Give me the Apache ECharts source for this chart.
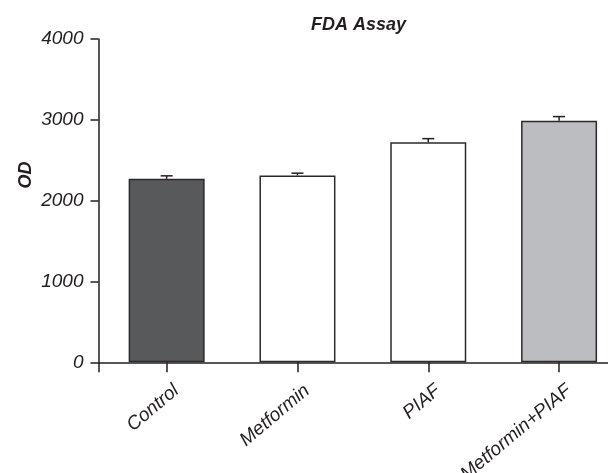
<!DOCTYPE html>
<html>
<head>
<meta charset="utf-8">
<script src="https://cdn.jsdelivr.net/npm/echarts@6/dist/echarts.min.js"></script>
<style>
html,body{margin:0;padding:0;background:#fff;}
#chart{width:608px;height:473px;}
</style>
</head>
<body>
<div id="chart"></div>
<script>
const categories = ["Control", "Metformin", "PIAF", "Metformin+PIAF"];
const odValues = [2270, 2312, 2722, 2988];
const odErrors = [37, 28, 45, 52];
const barColors = ["#58595b", "#ffffff", "#ffffff", "#bcbdc0"];
const yTicks = [0, 1000, 2000, 3000, 4000];

const ink = "#231f20";
const font = "Liberation Sans";
const positions = categories.map((c, i) => i);
const labelShift = 0.075;

const chart = echarts.init(document.getElementById('chart'), null, {renderer: 'canvas'});

const option = {
  backgroundColor: '#ffffff',
  animation: false,
  title: {
    text: 'FDA Assay',
    left: 306,
    top: 11,
    textStyle: {fontFamily: font, fontSize: 18, fontWeight: 'bold', fontStyle: 'italic', color: ink}
  },
  grid: {left: 98.5, right: 0, top: 39, bottom: 110.7, containLabel: false, outerBoundsMode: 'none'},
  xAxis: {
    type: 'value',
    min: -0.521,
    max: 3.374,
    splitLine: {show: false},
    axisLine: {show: true, onZero: false, lineStyle: {color: ink, width: 1.5}},
    axisTick: {show: true, length: 10, inside: false, customValues: [-0.521].concat(positions), lineStyle: {color: ink, width: 1.5}},
    axisLabel: {
      show: true,
      customValues: positions.map(p => p + labelShift),
      rotate: 40,
      margin: 26,
      formatter: v => categories[Math.round(v)] || '',
      fontFamily: font, fontSize: 19, fontStyle: 'italic', color: ink
    }
  },
  yAxis: {
    type: 'value',
    min: yTicks[0],
    max: yTicks[yTicks.length - 1],
    interval: 1000,
    splitLine: {show: false},
    axisLine: {show: true, onZero: false, lineStyle: {color: ink, width: 1.5}},
    axisTick: {show: true, length: 8, lineStyle: {color: ink, width: 1.5}},
    axisLabel: {margin: 15, formatter: v => String(v), fontFamily: font, fontSize: 19, fontStyle: 'italic', color: ink}
  },
  graphic: [{
    type: 'text',
    x: 26, y: 175,
    rotation: Math.PI / 2,
    style: {text: 'OD', font: 'italic bold 18px "Liberation Sans"', fill: ink, textAlign: 'center', textVerticalAlign: 'middle'}
  }],
  series: [
    {
      type: 'bar',
      barWidth: 76,
      data: odValues.map((v, i) => ({
        value: [positions[i], v],
        itemStyle: {color: barColors[i], borderColor: '#2a2a2a', borderWidth: 1.5}
      })),
      z: 2
    },
    {
      type: 'custom',
      z: 3,
      data: odValues.map((v, i) => [positions[i], v, odErrors[i]]),
      renderItem: function (params, api) {
        const x = api.value(0);
        const v = api.value(1);
        const e = api.value(2);
        const base = api.coord([x, v]);
        const top = api.coord([x, v + e]);
        const half = 6;
        const style = {stroke: ink, lineWidth: 1.5};
        return {
          type: 'group',
          children: [
            {type: 'line', shape: {x1: base[0], y1: base[1], x2: top[0], y2: top[1]}, style: style},
            {type: 'line', shape: {x1: top[0] - half, y1: top[1], x2: top[0] + half, y2: top[1]}, style: style}
          ]
        };
      }
    }
  ]
};
chart.setOption(option);
</script>
</body>
</html>
